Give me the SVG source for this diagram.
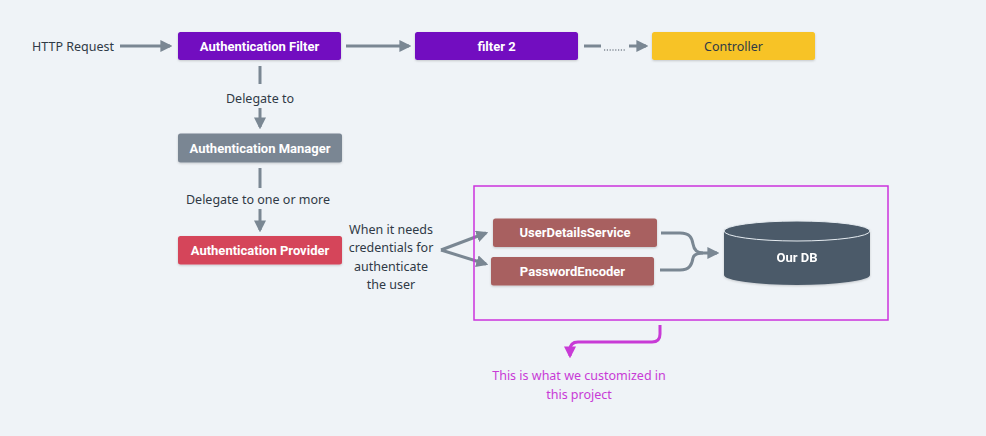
<svg xmlns="http://www.w3.org/2000/svg" width="986" height="436" viewBox="0 0 986 436">
<defs>
<style>
text{font-family:"Noto Sans","Liberation Sans",sans-serif;font-size:12.5px;fill:#2f3a46;}
.b{font-family:Roboto,"Noto Sans",sans-serif;font-weight:bold;fill:#ffffff;text-anchor:middle;font-size:13px;}
.c{text-anchor:middle;}
.ln{stroke:#7a8793;stroke-width:3;fill:none;}
.pl{stroke:#c83ad6;stroke-width:3;fill:none;}
</style>
<marker id="ah" viewBox="0 0 10 10" refX="8" refY="5" markerWidth="4" markerHeight="4" orient="auto" markerUnits="strokeWidth"><path d="M0,0 L10,5 L0,10 Z" fill="#7a8793"/></marker>
<marker id="ahp" viewBox="0 0 10 10" refX="8" refY="5" markerWidth="4" markerHeight="4" orient="auto" markerUnits="strokeWidth"><path d="M0,0 L10,5 L0,10 Z" fill="#c83ad6"/></marker>
<filter id="sh" x="-10%" y="-20%" width="120%" height="150%"><feDropShadow dx="0" dy="1" stdDeviation="1.2" flood-color="#000" flood-opacity="0.18"/></filter>
</defs>
<rect width="986" height="436" fill="#eff3f7"/>
<g id="connectors">
<line class="ln" x1="120" y1="46" x2="170" y2="46" marker-end="url(#ah)"/>
<line class="ln" x1="346" y1="46" x2="409" y2="46" marker-end="url(#ah)"/>
<line class="ln" x1="584" y1="46" x2="601" y2="46"/>
<line x1="604" y1="50" x2="626" y2="50" stroke="#4a5562" stroke-width="1" stroke-dasharray="1.2,1.6"/>
<line class="ln" x1="629" y1="46" x2="646" y2="46" marker-end="url(#ah)"/>
<line class="ln" x1="260" y1="66" x2="260" y2="84"/>
<line class="ln" x1="260" y1="108" x2="260" y2="127" marker-end="url(#ah)"/>
<line class="ln" x1="260" y1="168" x2="260" y2="188"/>
<line class="ln" x1="260" y1="209" x2="260" y2="230" marker-end="url(#ah)"/>
<line class="ln" x1="441" y1="250" x2="486" y2="233" marker-end="url(#ah)"/>
<line class="ln" x1="441" y1="250" x2="486" y2="264" marker-end="url(#ah)"/>
<path class="ln" d="M661,233 H680 C690,233 692,238 693,244 C694,250 697,253 703,253 H717" marker-end="url(#ah)"/>
<path class="ln" d="M660,270 H680 C690,270 692,264 693,258 C694,254 697,253 703,253"/>
<path class="pl" d="M660,325 V334 Q660,342 652,342 H578 Q570,342 570,350 V356" marker-end="url(#ahp)"/>
</g>
<rect x="474" y="186" width="414" height="134" fill="none" stroke="#cc33dd" stroke-width="1.5"/>
<text x="32" y="50.5">HTTP Request</text>
<text x="260" y="102.5" class="c">Delegate to</text>
<text x="258" y="203.5" class="c">Delegate to one or more</text>
<text x="391" y="233.5" class="c">When it needs</text>
<text x="391" y="252" class="c">credentials for</text>
<text x="391" y="270.5" class="c">authenticate</text>
<text x="391" y="289" class="c">the user</text>
<g id="auth-filter"><rect x="178" y="32" width="163" height="28" rx="2.5" fill="#7210c0" filter="url(#sh)"/><text x="259.5" y="50.5" class="b">Authentication Filter</text></g>
<g id="filter2"><rect x="415" y="32" width="163" height="28" rx="2.5" fill="#7210c0" filter="url(#sh)"/><text x="496.5" y="50.5" class="b">filter 2</text></g>
<g id="controller"><rect x="652" y="32" width="163" height="28" rx="2.5" fill="#f7c325" filter="url(#sh)"/><text x="733.5" y="50.5" class="c">Controller</text></g>
<g id="auth-manager"><rect x="178" y="133.5" width="164" height="29" rx="2.5" fill="#7a8693" filter="url(#sh)"/><text x="260" y="152.5" class="b">Authentication Manager</text></g>
<g id="auth-provider"><rect x="178" y="236" width="164" height="28.5" rx="2.5" fill="#d5445a" filter="url(#sh)"/><text x="260" y="254.5" class="b">Authentication Provider</text></g>
<g id="uds"><rect x="493" y="218.5" width="164" height="28.5" rx="2.5" fill="#a86060" filter="url(#sh)"/><text x="575" y="237" class="b">UserDetailsService</text></g>
<g id="pe"><rect x="491" y="257" width="163" height="28.5" rx="2.5" fill="#a86060" filter="url(#sh)"/><text x="572.5" y="275.5" class="b">PasswordEncoder</text></g>
<g id="db" filter="url(#sh)">
<path d="M724,231 V275 A73,10 0 0 0 870,275 V231 Z" fill="#4b5a69"/>
<ellipse cx="797" cy="231" rx="73" ry="10" fill="#4b5a69" stroke="#e6ecf1" stroke-width="1"/>
<text x="797" y="262" class="b">Our DB</text>
</g>
<text x="579" y="380" class="c" style="fill:#c83ad6">This is what we customized in</text>
<text x="579" y="398.5" class="c" style="fill:#c83ad6">this project</text>
</svg>
